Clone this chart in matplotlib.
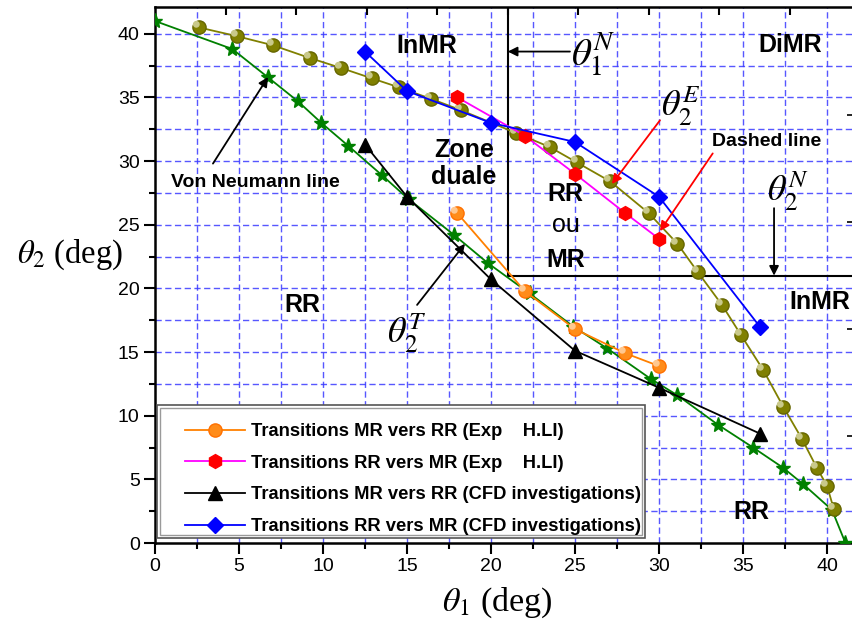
import matplotlib
matplotlib.use("Agg")
import matplotlib.pyplot as plt
from matplotlib.path import Path
from matplotlib.patches import Rectangle
import numpy as np

# ---------------- data ----------------
vn_x = [0, 4.6, 6.7, 8.5, 9.9, 11.5, 13.5, 15.1, 17.8, 19.8, 22.3, 24.9, 26.9, 29.5, 31.1, 33.5, 35.6, 37.4, 38.6, 40.3, 41.1]
vn_y = [41.0, 38.8, 36.6, 34.7, 33.0, 31.2, 28.9, 27.0, 24.2, 22.0, 19.6, 17.0, 15.3, 12.9, 11.6, 9.3, 7.5, 5.9, 4.6, 2.6, 0.0]

det_x = [2.6, 4.9, 7.0, 9.2, 11.1, 12.9, 14.5, 16.4, 18.2, 21.5, 23.5, 25.1, 27.1, 29.4, 31.1, 32.3, 33.75, 34.9, 36.2, 37.4, 38.5, 39.4, 40.0, 40.4]
det_y = [40.5, 39.8, 39.1, 38.1, 37.3, 36.5, 35.8, 34.9, 34.0, 32.2, 31.1, 29.9, 28.4, 25.9, 23.5, 21.3, 18.7, 16.3, 13.6, 10.7, 8.2, 5.9, 4.5, 2.7]

exp_x = [18, 22, 25, 28, 30]
exp_mr_rr = [25.9, 19.8, 16.8, 14.9, 13.9]
exp_rr_mr = [35.0, 32.0, 29.0, 25.9, 23.9]

cfd_x = [12.5, 15, 20, 25, 30, 36]
cfd_mr_rr = [31.3, 27.2, 20.7, 15.1, 12.2, 8.6]
cfd_rr_mr = [38.6, 35.5, 33.0, 31.5, 27.2, 17.0]

theta1_N = 21.0
theta2_N = 21.0

labels = ["Transitions MR vers RR (Exp    H.LI)",
          "Transitions RR vers MR (Exp    H.LI)",
          "Transitions MR vers RR (CFD investigations)",
          "Transitions RR vers MR (CFD investigations)"]

x_ticks = [0, 5, 10, 15, 20, 25, 30, 35, 40]
y_ticks = [0, 5, 10, 15, 20, 25, 30, 35, 40]

# ---------------- figure ----------------
plt.rcParams['mathtext.fontset'] = 'stix'
plt.rcParams['font.family'] = ['Liberation Sans', 'DejaVu Sans']

W, H = 853, 628
fig = plt.figure(figsize=(W/100, H/100), dpi=100)
ax = fig.add_axes([155/W, 1-543/H, 1-155/W, (543-7)/H])
ax.set_xlim(0, 41.55)
ax.set_ylim(0, 42.1)

# grid
for g in np.arange(2.5, 40.1, 2.5):
    ax.axvline(g, color='#3a3aff', lw=1.0, ls=(0, (4.5, 2.5)), alpha=0.85, zorder=1)
    ax.axhline(g, color='#3a3aff', lw=1.0, ls=(0, (4.5, 2.5)), alpha=0.85, zorder=1)

# regime boundaries
ax.plot([theta1_N, theta1_N], [theta2_N, 42.1], color='black', lw=1.5, zorder=3)
ax.plot([theta1_N, 41.55], [theta2_N, theta2_N], color='black', lw=1.5, zorder=3)

# glossy highlight marker (small circle offset up-left)
hl = Path.circle(center=(-0.28, 0.28), radius=0.3)

# curves
ax.plot(vn_x, vn_y, color='#008000', lw=1.3, marker='*', ms=11, mec='#008000', mfc='#008000', zorder=4)
ax.plot(det_x, det_y, color='#808000', lw=1.3, marker='o', ms=9.5, mec='#666600', mfc='#808000', zorder=4)
ax.plot(det_x, det_y, ls='none', marker=hl, ms=9.5, mec='none', mfc='#c9c98a', zorder=4.5)

h1, = ax.plot(exp_x, exp_mr_rr, color='#ff8000', lw=1.3, marker='o', ms=9.5, mec='#ff7000', mfc='#ff8c1a', zorder=5, label=labels[0])
ax.plot(exp_x, exp_mr_rr, ls='none', marker=hl, ms=9.5, mec='none', mfc='#ffc890', zorder=5.5)
h2, = ax.plot(exp_x, exp_rr_mr, color='#ff00ff', lw=1.3, marker='h', ms=10, mec='#ff0000', mfc='#ff0000', zorder=5, label=labels[1])
h3, = ax.plot(cfd_x, cfd_mr_rr, color='black', lw=1.3, marker='^', ms=10, mec='black', mfc='black', zorder=5, label=labels[2])
h4, = ax.plot(cfd_x, cfd_rr_mr, color='#0000ff', lw=1.3, marker='D', ms=8, mec='#0000ff', mfc='#0000ff', zorder=5, label=labels[3])

# legend frame (double border) and legend
fr_out = Rectangle((157/W, 1-538/H), (645-157)/W, (538-405)/H, transform=fig.transFigure,
                   facecolor='white', edgecolor='#555555', lw=1.2, zorder=6)
fr_in = Rectangle((160/W, 1-535/H), (642-160)/W, (535-408)/H, transform=fig.transFigure,
                  facecolor='white', edgecolor='#9a9a9a', lw=1.0, zorder=6)
ax.add_patch(fr_out)
ax.add_patch(fr_in)
leg = ax.legend(handles=[h1, h2, h3, h4], loc='upper left',
                bbox_to_anchor=(185/W, 1-423/H), bbox_transform=fig.transFigure,
                prop={'family': 'Liberation Sans', 'weight': 'bold', 'size': 13.2},
                handlelength=3.3, handletextpad=0.28, labelspacing=0.8, borderpad=0,
                borderaxespad=0, frameon=False)
leg.set_zorder(7)

# ticks
ax.set_xticks(x_ticks)
ax.set_yticks(y_ticks)
ax.set_xticks(np.arange(2.5, 41, 5), minor=True)
ax.set_yticks(np.arange(2.5, 41, 5), minor=True)
ax.tick_params(which='major', direction='out', length=8, width=1.5, labelsize=14, pad=3)
ax.tick_params(which='minor', direction='out', length=4, width=1.5)
ax.tick_params(top=False, right=False)
for s in ['left', 'bottom', 'top']:
    ax.spines[s].set_linewidth(1.8)
ax.spines['right'].set_visible(False)

axt = ax.twiny()
axt.set_xlim(ax.get_xlim())
axt.set_xticks(np.arange(4.2, 40, 4.2))
axt.tick_params(axis='x', direction='in', length=6, width=1.5, labeltop=False)
axr = ax.twinx()
axr.set_ylim(ax.get_ylim())
axr.set_yticks(np.arange(8.4, 40, 8.4))
axr.tick_params(axis='y', direction='in', length=4, width=1.2, labelright=False)
for a in (axt, axr):
    for s in a.spines.values():
        s.set_visible(False)

# axis labels
fig.text(70/W, 1-255/H, r'$\theta_{\mathrm{2}}$ (deg)', ha='center', va='center',
         fontsize=23.5, family='Liberation Serif')
fig.text(497/W, 1-603/H, r'$\theta_{\mathit{1}}$ (deg)', ha='center', va='center',
         fontsize=24.5, family='Liberation Serif')

# region labels
bold = dict(family='Liberation Sans', weight='bold', ha='center', va='center', zorder=7)
ax.text(16.2, 39.0, 'InMR', fontsize=18, **bold)
ax.text(37.8, 39.1, 'DiMR', fontsize=18, **bold)
ax.text(18.4, 29.8, 'Zone\nduale', fontsize=18, linespacing=1.2, **bold)
ax.text(24.45, 27.4, 'RR', fontsize=18, **bold)
ax.text(24.45, 25.0, 'ou', fontsize=18, family='Liberation Sans', ha='center', va='center')
ax.text(24.45, 22.2, 'MR', fontsize=18, **bold)
ax.text(8.8, 18.7, 'RR', fontsize=18, **bold)
ax.text(39.6, 18.9, 'InMR', fontsize=18, **bold)
ax.text(35.5, 2.4, 'RR', fontsize=18, **bold)
ax.text(5.95, 28.3, 'Von Neumann line', fontsize=14, **bold)
ax.text(36.4, 31.5, 'Dashed line', fontsize=14, **bold)

# symbols
ax.text(26.1, 38.4, r'$\theta_1^N$', fontsize=28, ha='center', va='center', zorder=7)
ax.text(31.3, 34.3, r'$\theta_2^E$', fontsize=26, ha='center', va='center', zorder=7)
ax.text(37.7, 27.6, r'$\theta_2^N$', fontsize=26, ha='center', va='center', zorder=7)
ax.text(15.0, 16.5, r'$\theta_2^T$', fontsize=26, ha='center', va='center', zorder=7)

# arrows
def arrow(x0, y0, x1, y1, color):
    ax.annotate('', xy=(x1, y1), xytext=(x0, y0),
                arrowprops=dict(arrowstyle='-|>', color=color, lw=1.3, mutation_scale=14,
                                shrinkA=0, shrinkB=0), zorder=7)

arrow(24.7, 38.6, theta1_N, 38.6, 'black')
arrow(36.85, 26.3, 36.85, theta2_N, 'black')
arrow(30.06, 33.2, 27.2, 28.2, 'red')
arrow(33.2, 30.6, 30.06, 24.5, 'red')
arrow(3.45, 29.8, 6.73, 36.6, 'black')
arrow(15.6, 18.7, 18.45, 23.5, 'black')

fig.savefig('out.png', dpi=100)
